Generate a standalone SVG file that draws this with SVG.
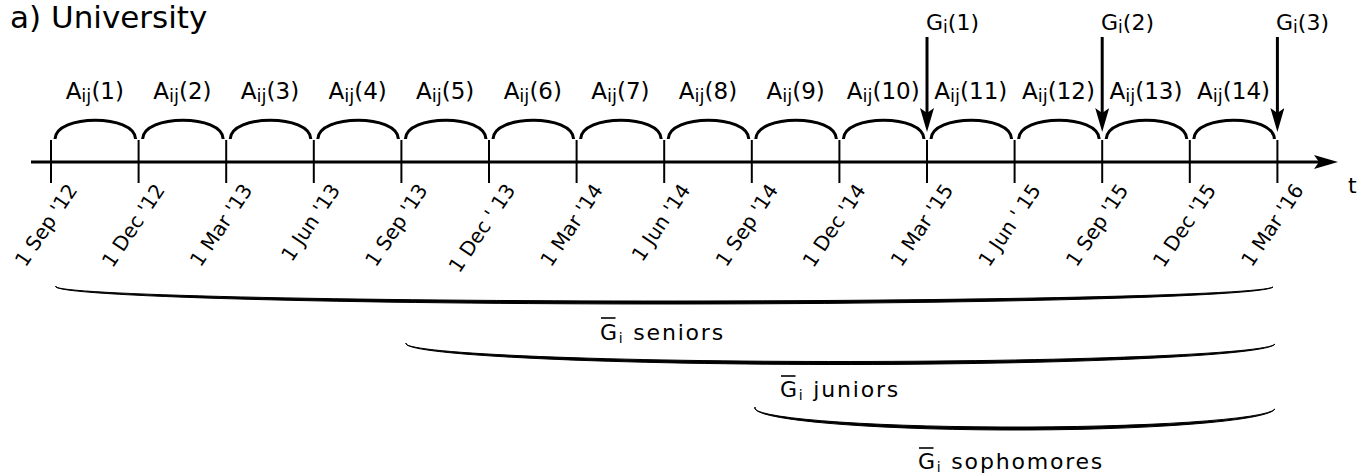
<svg xmlns="http://www.w3.org/2000/svg" width="1368" height="475" viewBox="0 0 1368 475">
<style>
text{font-family:"DejaVu Sans","Noto Sans",sans-serif;fill:#000}
.t22{font-size:22px}
.a{font-size:23px;text-anchor:middle}
.date{font-size:20px;text-anchor:end}
.gb{font-size:22px;letter-spacing:1.8px}
.arc{fill:none;stroke:#000;stroke-width:3}
.tick{stroke:#000;stroke-width:2}
.ln{stroke:#000;stroke-width:3;fill:none}
.brace{fill:#000;stroke:#000;stroke-width:1}
.ov{stroke:#000;stroke-width:1.6}
</style>
<defs>
<marker id="ah" markerUnits="userSpaceOnUse" viewBox="0 0 24 14" markerWidth="24" markerHeight="14" refX="5" refY="7" orient="auto">
<path d="M0,0 L24,7 L0,14 L5,7 Z" fill="#000"/>
</marker>
</defs>

<g id="title"><text x="10" y="28" style="font-size:31px">a) University</text></g>

<g id="axis">
<line class="ln" x1="31" y1="162" x2="1319" y2="162" marker-end="url(#ah)"/>
<text class="t22" x="1348" y="193">t</text>
<g id="ticks">
<line class="tick" x1="51" y1="140" x2="51" y2="183"/>
<line class="tick" x1="138.6" y1="140" x2="138.6" y2="183"/>
<line class="tick" x1="226.2" y1="140" x2="226.2" y2="183"/>
<line class="tick" x1="313.8" y1="140" x2="313.8" y2="183"/>
<line class="tick" x1="401.4" y1="140" x2="401.4" y2="183"/>
<line class="tick" x1="489" y1="140" x2="489" y2="183"/>
<line class="tick" x1="576.6" y1="140" x2="576.6" y2="183"/>
<line class="tick" x1="664.2" y1="140" x2="664.2" y2="183"/>
<line class="tick" x1="751.8" y1="140" x2="751.8" y2="183"/>
<line class="tick" x1="839.4" y1="140" x2="839.4" y2="183"/>
<line class="tick" x1="927" y1="140" x2="927" y2="183"/>
<line class="tick" x1="1014.6" y1="140" x2="1014.6" y2="183"/>
<line class="tick" x1="1102.2" y1="140" x2="1102.2" y2="183"/>
<line class="tick" x1="1189.8" y1="140" x2="1189.8" y2="183"/>
<line class="tick" x1="1277.4" y1="140" x2="1277.4" y2="183"/>
</g>
</g>

<g id="dates">
<text class="date" transform="translate(78,190) rotate(-56)">1 Sep '12</text>
<text class="date" transform="translate(165.6,190) rotate(-56)">1 Dec '12</text>
<text class="date" transform="translate(253.2,190) rotate(-56)">1 Mar '13</text>
<text class="date" transform="translate(340.8,190) rotate(-56)">1 Jun '13</text>
<text class="date" transform="translate(428.4,190) rotate(-56)">1 Sep '13</text>
<text class="date" transform="translate(516,190) rotate(-56)">1 Dec ' 13</text>
<text class="date" transform="translate(603.6,190) rotate(-56)">1 Mar '14</text>
<text class="date" transform="translate(691.2,190) rotate(-56)">1 Jun '14</text>
<text class="date" transform="translate(778.8,190) rotate(-56)">1 Sep '14</text>
<text class="date" transform="translate(866.4,190) rotate(-56)">1 Dec '14</text>
<text class="date" transform="translate(954,190) rotate(-56)">1 Mar '15</text>
<text class="date" transform="translate(1041.6,190) rotate(-56)">1 Jun ' 15</text>
<text class="date" transform="translate(1129.2,190) rotate(-56)">1 Sep '15</text>
<text class="date" transform="translate(1216.8,190) rotate(-56)">1 Dec '15</text>
<text class="date" transform="translate(1304.4,190) rotate(-56)">1 Mar '16</text>
</g>

<g id="periods">
<g id="A1"><path class="arc" d="M55,139 C56,114 134.6,114 135.6,139"/><text class="a" x="94.8" y="99">A<tspan font-size="18" dy="3">ij</tspan><tspan dy="-3">(1)</tspan></text></g>
<g id="A2"><path class="arc" d="M142.6,139 C143.6,114 222.2,114 223.2,139"/><text class="a" x="182.4" y="99">A<tspan font-size="18" dy="3">ij</tspan><tspan dy="-3">(2)</tspan></text></g>
<g id="A3"><path class="arc" d="M230.2,139 C231.2,114 309.8,114 310.8,139"/><text class="a" x="270" y="99">A<tspan font-size="18" dy="3">ij</tspan><tspan dy="-3">(3)</tspan></text></g>
<g id="A4"><path class="arc" d="M317.8,139 C318.8,114 397.4,114 398.4,139"/><text class="a" x="357.6" y="99">A<tspan font-size="18" dy="3">ij</tspan><tspan dy="-3">(4)</tspan></text></g>
<g id="A5"><path class="arc" d="M405.4,139 C406.4,114 485,114 486,139"/><text class="a" x="445.2" y="99">A<tspan font-size="18" dy="3">ij</tspan><tspan dy="-3">(5)</tspan></text></g>
<g id="A6"><path class="arc" d="M493,139 C494,114 572.6,114 573.6,139"/><text class="a" x="532.8" y="99">A<tspan font-size="18" dy="3">ij</tspan><tspan dy="-3">(6)</tspan></text></g>
<g id="A7"><path class="arc" d="M580.6,139 C581.6,114 660.2,114 661.2,139"/><text class="a" x="620.4" y="99">A<tspan font-size="18" dy="3">ij</tspan><tspan dy="-3">(7)</tspan></text></g>
<g id="A8"><path class="arc" d="M668.2,139 C669.2,114 747.8,114 748.8,139"/><text class="a" x="708" y="99">A<tspan font-size="18" dy="3">ij</tspan><tspan dy="-3">(8)</tspan></text></g>
<g id="A9"><path class="arc" d="M755.8,139 C756.8,114 835.4,114 836.4,139"/><text class="a" x="795.6" y="99">A<tspan font-size="18" dy="3">ij</tspan><tspan dy="-3">(9)</tspan></text></g>
<g id="A10"><path class="arc" d="M843.4,139 C844.4,114 923,114 924,139"/><text class="a" x="883.2" y="99">A<tspan font-size="18" dy="3">ij</tspan><tspan dy="-3">(10)</tspan></text></g>
<g id="A11"><path class="arc" d="M931,139 C932,114 1010.6,114 1011.6,139"/><text class="a" x="970.8" y="99">A<tspan font-size="18" dy="3">ij</tspan><tspan dy="-3">(11)</tspan></text></g>
<g id="A12"><path class="arc" d="M1018.6,139 C1019.6,114 1098.2,114 1099.2,139"/><text class="a" x="1058.4" y="99">A<tspan font-size="18" dy="3">ij</tspan><tspan dy="-3">(12)</tspan></text></g>
<g id="A13"><path class="arc" d="M1106.2,139 C1107.2,114 1185.8,114 1186.8,139"/><text class="a" x="1146" y="99">A<tspan font-size="18" dy="3">ij</tspan><tspan dy="-3">(13)</tspan></text></g>
<g id="A14"><path class="arc" d="M1193.8,139 C1194.8,114 1273.4,114 1274.4,139"/><text class="a" x="1233.6" y="99">A<tspan font-size="18" dy="3">ij</tspan><tspan dy="-3">(14)</tspan></text></g>
</g>

<g id="G1"><text class="t22" x="926" y="30">G<tspan font-size="17" dy="3">i</tspan><tspan dy="-3">(1)</tspan></text></g>
<g id="G2"><text class="t22" x="1101" y="30">G<tspan font-size="17" dy="3">i</tspan><tspan dy="-3">(2)</tspan></text></g>
<g id="G3"><text class="t22" x="1276" y="30">G<tspan font-size="17" dy="3">i</tspan><tspan dy="-3">(3)</tspan></text></g>

<g id="connectors">
<line class="ln" x1="927" y1="37" x2="927" y2="113" marker-end="url(#ah)"/>
<line class="ln" x1="1102.2" y1="37" x2="1102.2" y2="113" marker-end="url(#ah)"/>
<line class="ln" x1="1277.4" y1="37" x2="1277.4" y2="113" marker-end="url(#ah)"/>
</g>

<g id="seniors">
<path class="brace" d="M56,286 A608.5,17.5 0 0 0 1273,287 A608.5,14.5 0 0 1 56,286 Z"/>
<text class="gb" x="600" y="340">G<tspan font-size="14" dy="3">i</tspan><tspan dy="-3"> seniors</tspan></text>
<line class="ov" x1="601" y1="318" x2="615.5" y2="318"/>
</g>
<g id="juniors">
<path class="brace" d="M406,343 A434.5,21 0 0 0 1275,344 A434.5,18 0 0 1 406,343 Z"/>
<text class="gb" x="780" y="397">G<tspan font-size="14" dy="3">i</tspan><tspan dy="-3"> juniors</tspan></text>
<line class="ov" x1="781" y1="376" x2="795.5" y2="376"/>
</g>
<g id="sophomores">
<path class="brace" d="M755,407 A260,22 0 0 0 1275,409 A260,19 0 0 1 755,407 Z"/>
<text class="gb" x="918" y="469">G<tspan font-size="14" dy="3">i</tspan><tspan dy="-3"> sophomores</tspan></text>
<line class="ov" x1="919" y1="448" x2="933.5" y2="448"/>
</g>
</svg>
